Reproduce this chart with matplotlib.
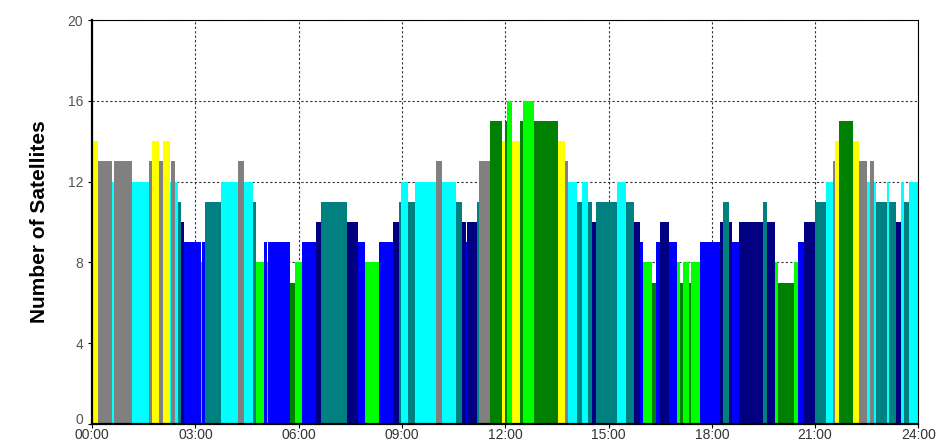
import matplotlib
matplotlib.use("Agg")
import matplotlib.pyplot as plt
import matplotlib.transforms as mtransforms
from matplotlib.ticker import FixedLocator

# times (HH:MM) at which the number of visible satellites changes
change_times = [
    "00:00", "00:10", "00:34", "00:39", "01:09", "01:40", "01:44", "01:56", "02:04", "02:15",
    "02:18", "02:25", "02:29", "02:35", "02:40", "03:09", "03:12", "03:17", "03:44", "04:14",
    "04:24", "04:40", "04:46", "05:00", "05:04", "05:07", "05:45", "05:54", "06:05", "06:30",
    "06:39", "07:24", "07:44", "07:55", "08:20", "08:45", "08:54", "08:59", "09:10", "09:23",
    "10:00", "10:10", "10:35", "10:45", "10:51", "10:54", "11:10", "11:15", "11:33", "11:55",
    "11:59", "12:03", "12:11", "12:26", "12:31", "12:50", "13:32", "13:45", "13:49", "14:05",
    "14:14", "14:25", "14:32", "14:39", "15:15", "15:31", "15:45", "15:55", "16:00", "16:16",
    "16:23", "16:30", "16:46", "17:00", "17:05", "17:09", "17:20", "17:24", "17:40", "18:15",
    "18:19", "18:30", "18:35", "18:47", "19:30", "19:36", "19:50", "19:56", "20:24", "20:30",
    "20:40", "20:59", "21:19", "21:31", "21:35", "21:41", "22:06", "22:17", "22:31", "22:36",
    "22:42", "22:46", "23:05", "23:09", "23:21", "23:29", "23:35", "23:44",
]
sat_counts = [
    14, 13, 12, 13, 12, 13, 14, 13, 14, 12,
    13, 12, 11, 10, 9, 8, 9, 11, 12, 13,
    12, 11, 8, 9, 8, 9, 7, 8, 9, 10,
    11, 10, 9, 8, 9, 10, 11, 12, 11, 12,
    13, 12, 11, 10, 9, 10, 11, 13, 15, 14,
    15, 16, 14, 15, 16, 15, 14, 13, 12, 11,
    12, 11, 10, 11, 12, 11, 10, 9, 8, 7,
    9, 10, 9, 8, 7, 8, 7, 8, 9, 10,
    11, 10, 9, 10, 11, 10, 8, 7, 8, 9,
    10, 11, 12, 13, 14, 15, 14, 13, 12, 13,
    12, 11, 12, 11, 10, 12, 11, 12,
]
end_time = "24:00"

count_colors = {
    7: "#008000", 8: "#00ff00", 9: "#0000ff", 10: "#000080",
    11: "#008080", 12: "#00ffff", 13: "#808080", 14: "#ffff00",
    15: "#008000", 16: "#00ff00",
}

y_ticks = [0, 4, 8, 12, 16, 20]
x_tick_labels = ["00:00", "03:00", "06:00", "09:00", "12:00", "15:00", "18:00", "21:00", "24:00"]


def to_hours(s):
    hh, mm = s.split(":")
    return int(hh) + int(mm) / 60.0


starts = [to_hours(t) for t in change_times]
ends = starts[1:] + [to_hours(end_time)]
widths = [e - s for s, e in zip(starts, ends)]
colors = [count_colors[c] for c in sat_counts]

fig = plt.figure(figsize=(9.4, 4.45), dpi=100)
ax = fig.add_axes([0.098, 0.047, 0.879, 0.908])

ax.bar(starts, sat_counts, width=widths, align="edge", color=colors,
       edgecolor="none", linewidth=0, zorder=2)

ax.set_xlim(0, 24)
ax.set_ylim(0, 20)
ax.xaxis.set_major_locator(FixedLocator([to_hours(t) for t in x_tick_labels]))
ax.set_xticklabels(x_tick_labels)
ax.set_yticks(y_ticks)

ax.grid(True, color="#303030", linestyle=(0, (2, 2)), linewidth=0.8, zorder=0)
ax.set_axisbelow(True)

for side in ["left", "bottom"]:
    ax.spines[side].set_linewidth(1.6)
for side in ["top", "right"]:
    ax.spines[side].set_linewidth(0.8)

ax.tick_params(axis="both", labelsize=10, length=3, width=0.8)
ax.tick_params(axis="x", pad=0, labelcolor="#333333")
ax.tick_params(axis="y", labelcolor="#555555")
for lbl in ax.get_xticklabels() + ax.get_yticklabels():
    lbl.set_family(["Liberation Sans", "DejaVu Sans"])

# lift the "0" label a little so it clears "00:00" below it
zero_lbl = ax.get_yticklabels()[0]
zero_lbl.set_transform(zero_lbl.get_transform()
                       + mtransforms.ScaledTranslation(0, 4 / 72, fig.dpi_scale_trans))

ax.set_ylabel("Number of Satellites", fontsize=15, fontweight="bold",
              family=["Liberation Sans", "DejaVu Sans"], labelpad=13)

fig.savefig("out.png", dpi=100)
